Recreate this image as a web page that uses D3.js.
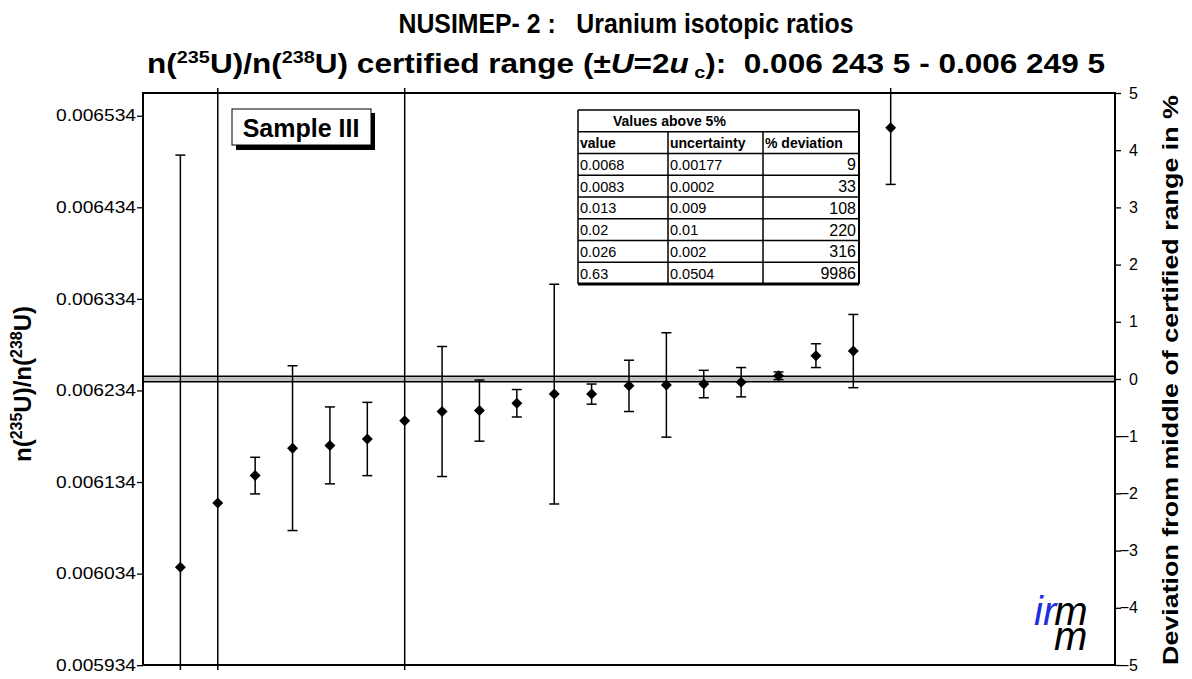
<!DOCTYPE html>
<html><head><meta charset="utf-8">
<script src="https://cdn.jsdelivr.net/npm/d3@7"></script>
<style>
body{margin:0;background:#fff}
text{font-family:Arial,"Liberation Sans",sans-serif;white-space:pre}
</style>
</head><body><svg id="c" width="1192" height="679"></svg>
<script>
// ---------------- data ----------------
const labIndex = [1,2,3,4,5,6,7,8,9,10,11,12,13,14,15,16,17,18,19,20];
const ratioValues = [0.006041,0.006111,0.006141,0.006171,0.006174,0.006181,0.006201,0.006211,0.006212,0.006220,
                     0.006230,0.006230,0.006239,0.006240,0.006241,0.006243,0.00625,0.006272,0.006277,0.006521];
const ratioUncert = [0.00045,0.0012,0.00002,0.00009,0.000042,0.00004,0.0012,0.000071,0.0000334,0.000015,
                     0.00012,0.000011,0.000028,0.000057,0.000015,0.000016,0.0000042,0.000013,0.00004,0.000062];
const certLow = 0.0062435, certHigh = 0.0062495;
const leftTickValues = [0.005934,0.006034,0.006134,0.006234,0.006334,0.006434,0.006534];
const rightTickValues = [-5,-4,-3,-2,-1,0,1,2,3,4,5];
const xCount = 26;
const tableTitle = "Values above 5%";
const tableHeaders = ["value","uncertainty","% deviation"];
const tableValue = ["0.0068","0.0083","0.013","0.02","0.026","0.63"];
const tableUncert = ["0.00177","0.0002","0.009","0.01","0.002","0.0504"];
const tableDeviation = [9,33,108,220,316,9986];

// ---------------- layout ----------------
const svg = d3.select("#c");
svg.append("rect").attr("width",1192).attr("height",679).attr("fill","#fff");
const L=143, R=1115, T=93, B=665;
const mid = (certLow+certHigh)/2;
const x = d3.scaleLinear().domain([0,xCount]).range([L,R]);
const y = d3.scaleLinear().domain([mid*0.95, mid*1.05]).range([B,T]);
const yDev = d3.scaleLinear().domain([-5,5]).range([B,T]);

// certified band
svg.append("rect").attr("x",L).attr("width",R-L)
  .attr("y",y(certHigh)).attr("height",y(certLow)-y(certHigh))
  .attr("fill","#c0c0c0");
[certLow,certHigh].forEach(v=>svg.append("line").attr("x1",L).attr("x2",R)
  .attr("y1",y(v)).attr("y2",y(v)).attr("stroke","#000").attr("stroke-width",1.4));

// plot frame
svg.append("rect").attr("x",L).attr("y",T).attr("width",R-L).attr("height",B-T)
  .attr("fill","none").attr("stroke","#000").attr("stroke-width",2);

// axes
const la = svg.append("g").attr("transform",`translate(${L},0)`)
  .call(d3.axisLeft(y).tickValues(leftTickValues).tickFormat(d3.format(".6f")).tickSize(6).tickSizeOuter(0));
la.select(".domain").remove();
la.selectAll("text").attr("font-size",16).attr("font-family","Arial, 'Liberation Sans', sans-serif")
  .attr("x",-7).attr("textLength",80).attr("lengthAdjust","spacingAndGlyphs");
la.selectAll("line").attr("stroke-width",1.3);
const ra = svg.append("g").attr("transform",`translate(${R},0)`)
  .call(d3.axisRight(yDev).tickValues(rightTickValues).tickFormat(d3.format("d")).tickSize(6).tickSizeOuter(0));
ra.select(".domain").remove();
ra.selectAll("text").attr("font-size",16).attr("font-family","Arial, 'Liberation Sans', sans-serif")
  .attr("text-anchor","end").attr("x",23);
ra.selectAll("line").attr("stroke-width",1.3);

// error bars (clipped a little beyond frame)
svg.append("clipPath").attr("id","eb").append("rect").attr("x",0).attr("y",T-5).attr("width",1192).attr("height",B-T+10);
const eb = svg.append("g").attr("clip-path","url(#eb)");
const pts = labIndex.map((k,i)=>({k,v:ratioValues[i],u:ratioUncert[i]}));
eb.selectAll("line.v").data(pts).join("line")
  .attr("x1",d=>x(d.k)).attr("x2",d=>x(d.k))
  .attr("y1",d=>y(d.v+d.u)).attr("y2",d=>y(d.v-d.u))
  .attr("stroke","#000").attr("stroke-width",1.5);
eb.selectAll("line.capT").data(pts).join("line")
  .attr("x1",d=>x(d.k)-5).attr("x2",d=>x(d.k)+5)
  .attr("y1",d=>y(d.v+d.u)).attr("y2",d=>y(d.v+d.u))
  .attr("stroke","#000").attr("stroke-width",1.5);
eb.selectAll("line.capB").data(pts).join("line")
  .attr("x1",d=>x(d.k)-5).attr("x2",d=>x(d.k)+5)
  .attr("y1",d=>y(d.v-d.u)).attr("y2",d=>y(d.v-d.u))
  .attr("stroke","#000").attr("stroke-width",1.5);
svg.selectAll("path.pt").data(pts).join("path")
  .attr("d","M0,-5.5L5.5,0L0,5.5L-5.5,0Z")
  .attr("transform",d=>`translate(${x(d.k)},${y(d.v)})`).attr("fill","#000");

// titles
svg.append("text").attr("x",626).attr("y",33).attr("text-anchor","middle")
  .attr("font-size",28).attr("font-weight","bold").attr("textLength",455).attr("lengthAdjust","spacingAndGlyphs")
  .text("NUSIMEP- 2 :   Uranium isotopic ratios");
const t2 = svg.append("text").attr("x",147).attr("y",73)
  .attr("font-size",27).attr("font-weight","bold").attr("textLength",958).attr("lengthAdjust","spacingAndGlyphs");
t2.append("tspan").text("n(");
t2.append("tspan").attr("font-size",17).attr("dy",-10).text("235");
t2.append("tspan").attr("dy",10).text("U)/n(");
t2.append("tspan").attr("font-size",17).attr("dy",-10).text("238");
t2.append("tspan").attr("dy",10).text("U) certified range (±");
t2.append("tspan").attr("font-style","italic").text("U");
t2.append("tspan").text("=2");
t2.append("tspan").attr("font-style","italic").text("u");
t2.append("tspan").attr("font-size",17).attr("dy",5).text(" c");
t2.append("tspan").attr("dy",-5).text("):  0.006 243 5 - 0.006 249 5");

// left axis title
const lt = svg.append("text").attr("transform","translate(31,384) rotate(-90)").attr("text-anchor","middle")
  .attr("font-size",24).attr("font-weight","bold");
lt.append("tspan").text("n(");
lt.append("tspan").attr("font-size",16).attr("dy",-9).text("235");
lt.append("tspan").attr("dy",9).text("U)/n(");
lt.append("tspan").attr("font-size",16).attr("dy",-9).text("238");
lt.append("tspan").attr("dy",9).text("U)");

// right axis title
svg.append("text").attr("transform","translate(1178,380) rotate(-90)").attr("text-anchor","middle")
  .attr("font-size",22).attr("font-weight","bold").attr("textLength",570).attr("lengthAdjust","spacingAndGlyphs")
  .text("Deviation from middle of certified range in %");

// Sample III box
svg.append("rect").attr("x",236).attr("y",113).attr("width",139).attr("height",37).attr("fill","#000");
svg.append("rect").attr("x",232).attr("y",109).attr("width",139).attr("height",36).attr("fill","#fff").attr("stroke","#000").attr("stroke-width",1);
svg.append("text").attr("x",301).attr("y",137).attr("text-anchor","middle").attr("font-size",25).attr("font-weight","bold").text("Sample III");

// table
const tx=[578,668,763,859], ty0=110, rh=21.75;
const tg = svg.append("g");
tg.append("rect").attr("x",tx[0]).attr("y",ty0).attr("width",tx[3]-tx[0]).attr("height",rh*8).attr("fill","#fff");
for(let r=0;r<=8;r++) tg.append("line").attr("x1",tx[0]).attr("x2",tx[3]).attr("y1",ty0+r*rh).attr("y2",ty0+r*rh)
  .attr("stroke","#000").attr("stroke-width",r===8?3:1.5);
tg.append("line").attr("x1",tx[0]).attr("x2",tx[0]).attr("y1",ty0).attr("y2",ty0+8*rh).attr("stroke","#000").attr("stroke-width",1.5);
tg.append("line").attr("x1",tx[3]).attr("x2",tx[3]).attr("y1",ty0).attr("y2",ty0+8*rh).attr("stroke","#000").attr("stroke-width",2);
[1,2].forEach(c=>tg.append("line").attr("x1",tx[c]).attr("x2",tx[c]).attr("y1",ty0+rh).attr("y2",ty0+8*rh).attr("stroke","#000").attr("stroke-width",1.5));
tg.append("text").attr("x",613).attr("y",ty0+rh-5.5).attr("font-size",14).attr("font-weight","bold").text(tableTitle);
tableHeaders.forEach((h,c)=>tg.append("text").attr("x",tx[c]+2).attr("y",ty0+2*rh-5.5).attr("font-size",14).attr("font-weight","bold").text(h));
tableValue.forEach((v,r)=>{
  const yy = ty0+(r+3)*rh-5.5;
  tg.append("text").attr("x",tx[0]+2).attr("y",yy).attr("font-size",14.5).text(v);
  tg.append("text").attr("x",tx[1]+2).attr("y",yy).attr("font-size",14.5).text(tableUncert[r]);
  tg.append("text").attr("x",tx[3]-3).attr("y",yy+0.5).attr("font-size",16).attr("text-anchor","end").text(tableDeviation[r]);
});

// irmm logo (single text element)
const logo = svg.append("text").attr("font-family","'Liberation Serif','Times New Roman',serif")
  .attr("font-style","italic").attr("font-size",40).attr("x",1034).attr("y",625);
logo.append("tspan").attr("fill","#1f2fe0").text("ir");
logo.append("tspan").attr("fill","#000").attr("dx",-2).text("m");
logo.append("tspan").attr("fill","#000").attr("x",1054).attr("y",650).text("m");
</script></body></html>
